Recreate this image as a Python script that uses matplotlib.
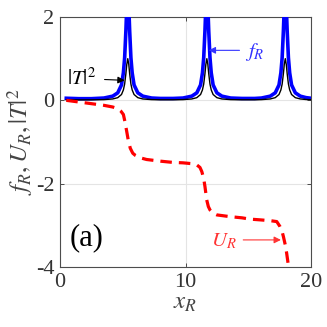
import matplotlib
matplotlib.use('Agg')
import matplotlib.pyplot as plt

plt.rcParams['font.family'] = ['Liberation Serif', 'DejaVu Serif']
plt.rcParams['mathtext.fontset'] = 'stix'

# transmission |T|^2 and f_R (peaks near 5.4, 11.7, 17.95)
x_T = [0.5, 1.5, 2.5, 3.5, 4.2, 4.6, 4.9, 5.05, 5.15, 5.25, 5.32, 5.4, 5.48, 5.55,
       5.65, 5.75, 5.9, 6.2, 6.6, 7.3, 8.0, 9.0, 9.8, 10.5, 10.9, 11.2, 11.35,
       11.45, 11.55, 11.62, 11.7, 11.78, 11.85, 11.95, 12.05, 12.2, 12.5, 12.9,
       13.6, 14.5, 15.5, 16.05, 16.75, 17.15, 17.45, 17.6, 17.7, 17.8, 17.87,
       17.95, 18.03, 18.1, 18.2, 18.3, 18.45, 18.75, 19.15, 19.6, 20.0]
T2 = [0.014, 0.011, 0.012, 0.017, 0.033, 0.064, 0.14, 0.25, 0.39, 0.64, 0.86, 1.0,
      0.86, 0.64, 0.39, 0.25, 0.14, 0.064, 0.033, 0.017, 0.013, 0.013, 0.017,
      0.033, 0.064, 0.14, 0.25, 0.39, 0.64, 0.86, 1.0, 0.86, 0.64, 0.39, 0.25,
      0.14, 0.064, 0.033, 0.017, 0.013, 0.013, 0.017, 0.033, 0.064, 0.14, 0.25,
      0.39, 0.64, 0.86, 1.0, 0.86, 0.64, 0.39, 0.25, 0.14, 0.064, 0.033, 0.02,
      0.014]
fR = [0.05, 0.04, 0.04, 0.055, 0.1, 0.18, 0.37, 0.66, 1.02, 1.67, 2.25, 2.62,
      2.25, 1.67, 1.02, 0.66, 0.37, 0.18, 0.1, 0.055, 0.045, 0.045, 0.055,
      0.1, 0.18, 0.37, 0.66, 1.02, 1.67, 2.25, 2.62, 2.25, 1.67, 1.02, 0.66,
      0.37, 0.18, 0.1, 0.055, 0.045, 0.045, 0.055, 0.1, 0.18, 0.37, 0.66,
      1.02, 1.67, 2.25, 2.62, 2.25, 1.67, 1.02, 0.66, 0.37, 0.18, 0.1, 0.065,
      0.05]

# U_R (dashed red)
x_U = [0.5, 1.5, 2.5, 3.5, 4.2, 4.6, 4.85, 5.05, 5.18, 5.3, 5.44, 5.6, 5.8, 6.0,
       6.4, 6.9, 8.0, 9.0, 9.8, 10.5, 10.9, 11.15, 11.3, 11.45, 11.55, 11.69,
       11.82, 11.95, 12.2, 12.5, 13.5, 14.5, 15.1, 16.0, 16.8, 17.27, 17.53,
       17.68, 17.8, 17.95, 18.06, 18.19, 18.35]
U_R = [0.0, -0.04, -0.08, -0.12, -0.16, -0.2, -0.26, -0.34, -0.52, -0.72, -0.96,
       -1.15, -1.27, -1.32, -1.38, -1.42, -1.46, -1.49, -1.5, -1.52, -1.55, -1.61,
       -1.71, -1.88, -2.07, -2.39, -2.55, -2.63, -2.71, -2.75, -2.79, -2.82,
       -2.85, -2.87, -2.89, -2.91, -3.03, -3.13, -3.27, -3.47, -3.67, -3.95, -4.3]

xticks = [0, 10, 20]
yticks = [-4, -2, 0, 2]

fig = plt.figure(figsize=(3.27, 3.27), dpi=100)
ax = fig.add_axes([0.1835, 0.1835, 0.7676, 0.7645])

ax.plot(x_T, fR, color='#0000ff', lw=2.6, zorder=3)
ax.plot(x_T, T2, color='black', lw=1.0, zorder=4)
ax.plot(x_U, U_R, color='#ff0000', lw=2.3, dashes=(3.6, 2.2), zorder=5)

ax.set_xlim(0, 20)
ax.set_ylim(-4, 2)
ax.set_xticks(xticks)
ax.set_yticks(yticks)
ax.set_xticklabels([str(t) for t in xticks])
ax.set_yticklabels([str(t) for t in yticks])
ax.grid(True, color='#e4e4e4', lw=0.8, zorder=0)
ax.tick_params(direction='in', length=3, width=0.6, colors='#333333',
               labelsize=16, top=True, right=True, pad=4)
for s in ax.spines.values():
    s.set_color('#4d4d4d')
    s.set_linewidth(0.8)

ax.set_xlabel(r'$x_R$', fontsize=18, color='#444444', labelpad=0)
ax.set_ylabel(r'$f_R, U_R, |T|^2$', fontsize=18, color='#444444', labelpad=1)

ax.text(0.8, -3.3, '(a)', fontsize=22, va='center', ha='left', zorder=6)

arrow = dict(arrowstyle='-|>', lw=0.8, mutation_scale=10, shrinkA=0, shrinkB=0)

ax.text(0.55, 0.52, r'$|T|^2$', fontsize=15, va='center', ha='left')
ax.annotate('', xy=(5.15, 0.48), xytext=(3.55, 0.5),
            arrowprops=dict(arrow, color='black'))

ax.text(14.75, 1.16, r'$f_R$', fontsize=15, color='#3333ff', va='center', ha='left')
ax.annotate('', xy=(11.85, 1.2), xytext=(14.3, 1.2),
            arrowprops=dict(arrow, color='#3333ff'))

ax.text(12.0, -3.38, r'$U_R$', fontsize=15, color='#ff3333', va='center', ha='left')
ax.annotate('', xy=(17.6, -3.35), xytext=(14.6, -3.35),
            arrowprops=dict(arrow, color='#ff3333'))

fig.savefig('out.png', dpi=100, facecolor='white')
